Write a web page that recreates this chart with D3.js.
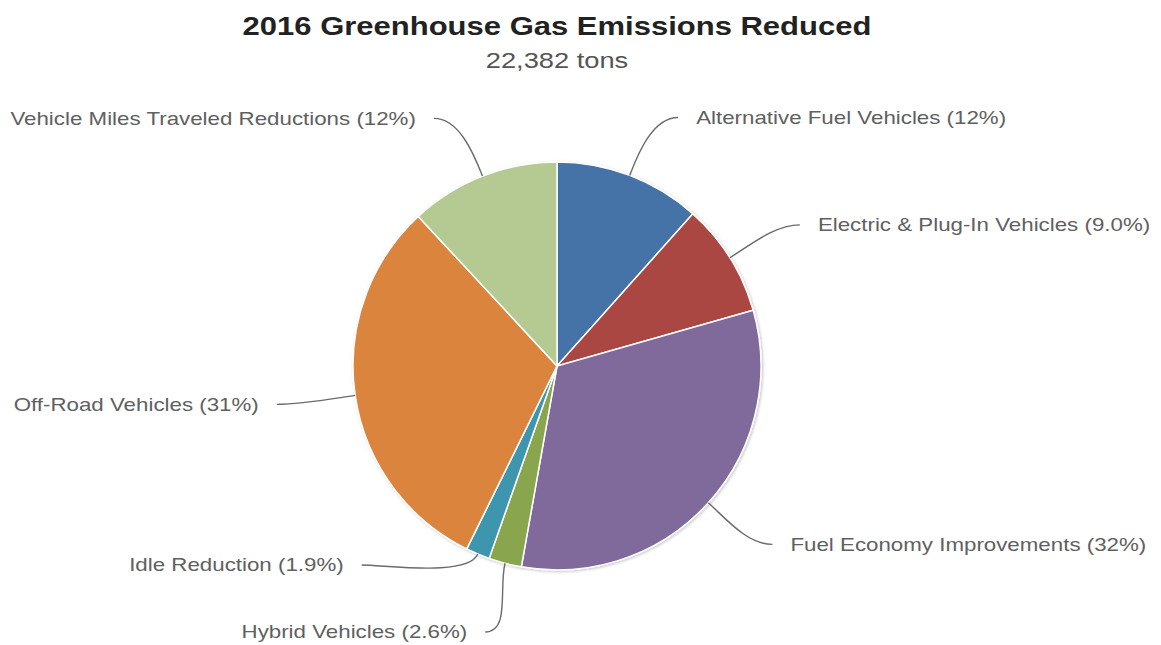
<!DOCTYPE html>
<html>
<head>
<meta charset="utf-8">
<script src="https://cdn.jsdelivr.net/npm/d3@7"></script>
<style>
  body { margin: 0; background: #fff; }
  svg { display: block; font-family: "Liberation Sans", Arial, sans-serif; }
</style>
</head>
<body>
<svg id="chart" width="1161" height="645"></svg>
<script>
var categories = [
  "Alternative Fuel Vehicles",
  "Electric & Plug-In Vehicles",
  "Fuel Economy Improvements",
  "Hybrid Vehicles",
  "Idle Reduction",
  "Off-Road Vehicles",
  "Vehicle Miles Traveled Reductions"
];
// tons reduced per category (read from the slice shares of 22,382 tons)
var tons = [2596, 2014, 7207, 582, 425, 6894, 2664];
var colors = ["#4572A7", "#AA4643", "#80699B", "#89A54E", "#3D96AE", "#DB843D", "#B5CA92"];
var titleText = "2016 Greenhouse Gas Emissions Reduced";
var subtitleText = "22,382 tons";

var svg = d3.select("#chart");
var cx = 557, cy = 366,
  radius = 204,
  labelRy = 266,          // vertical reach of the labels
  labelAx = 283, labelBy = 275, // ellipse the connector ends sit on
  labelGap = 67,
  stretch = 1.24;         // the source text is drawn wide

var total = d3.sum(tons);
var fmt = d3.format(".2r");

var defs = svg.append("defs");
defs.append("filter").attr("id", "shadow")
  .attr("x", "-10%").attr("y", "-10%").attr("width", "120%").attr("height", "120%")
  .append("feDropShadow")
  .attr("dx", 1).attr("dy", 1).attr("stdDeviation", 1.5)
  .attr("flood-color", "#000").attr("flood-opacity", 0.25);

svg.append("text")
  .attr("transform", "translate(" + cx + ",35) scale(" + stretch + ",1)")
  .attr("text-anchor", "middle")
  .style("font-size", "25px").style("font-weight", "bold").style("fill", "#222")
  .text(titleText);

svg.append("text")
  .attr("transform", "translate(" + cx + ",68) scale(" + stretch + ",1)")
  .attr("text-anchor", "middle")
  .style("font-size", "22px").style("fill", "#555")
  .text(subtitleText);

var pie = d3.pie().sort(null).value(d => d)
  .startAngle(0).endAngle(2 * Math.PI);
var arcs = pie(tons);
var arc = d3.arc().innerRadius(0).outerRadius(radius);

var g = svg.append("g").attr("transform", "translate(" + cx + "," + cy + ")");

g.append("g").attr("filter", "url(#shadow)")
  .selectAll("path").data(arcs)
  .enter().append("path")
  .attr("d", arc)
  .style("fill", (d, i) => colors[i])
  .style("stroke", "#fff")
  .style("stroke-width", 1.5);

// label layout: start radial, then spread each side apart
var labels = arcs.map(function(d, i) {
  var a = (d.startAngle + d.endAngle) / 2;
  return {
    i: i, a: a,
    side: a > Math.PI ? -1 : 1,
    y: -labelRy * Math.cos(a),
    text: categories[i] + " (" + fmt(d.value / total * 100) + "%)"
  };
});

[1, -1].forEach(function(side) {
  var s = labels.filter(l => l.side === side).sort((a, b) => a.y - b.y);
  for (var k = 1; k < s.length; k++) s[k].y = Math.max(s[k].y, s[k - 1].y + labelGap);
  s[s.length - 1].y = Math.min(s[s.length - 1].y, labelRy);
  for (k = s.length - 2; k >= 0; k--) s[k].y = Math.min(s[k].y, s[k + 1].y - labelGap);
  s[0].y = Math.max(s[0].y, -labelRy);
});

labels.forEach(function(l) {
  var t = Math.min(1, Math.abs(l.y) / labelBy);
  l.x = l.side * labelAx * Math.sqrt(1 - t * t);
  var ex = radius * Math.sin(l.a), ey = -radius * Math.cos(l.a);
  var c1x = (radius + 25) * Math.sin(l.a), c1y = -(radius + 25) * Math.cos(l.a);
  var p = d3.path();
  p.moveTo(ex, ey);
  p.bezierCurveTo(c1x, c1y, l.x - l.side * 25, l.y, l.x, l.y);
  l.path = p.toString();
});

g.selectAll("path.connector").data(labels)
  .enter().append("path")
  .attr("class", "connector")
  .attr("d", d => d.path)
  .style("fill", "none")
  .style("stroke", "#6b6b6b")
  .style("stroke-width", 1.4);

g.selectAll("text.label").data(labels)
  .enter().append("text")
  .attr("class", "label")
  .attr("transform", d => "translate(" + (d.x + d.side * 18) + "," + d.y + ") scale(" + stretch + ",1)")
  .attr("dy", "0.35em")
  .attr("text-anchor", d => d.side > 0 ? "start" : "end")
  .style("font-size", "18px")
  .style("fill", "#606060")
  .text(d => d.text);
</script>
</body>
</html>
